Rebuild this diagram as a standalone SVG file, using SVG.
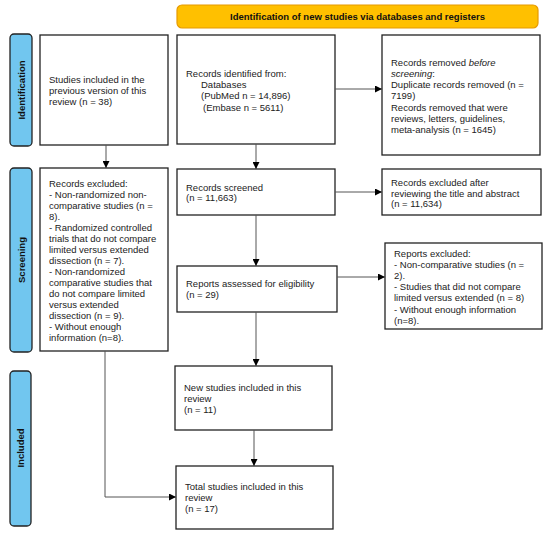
<svg xmlns="http://www.w3.org/2000/svg" width="550" height="538" viewBox="0 0 550 538">
<defs>
<marker id="ah" viewBox="0 0 10 10" refX="10" refY="5" markerWidth="7" markerHeight="7" markerUnits="userSpaceOnUse" orient="auto">
<path d="M0,0 L10,5 L0,10 z" fill="#000"/>
</marker>
</defs>
<style>
.box{fill:#fff;stroke:#222;stroke-width:1.3}
.side{fill:#71C6EF;stroke:#222;stroke-width:1.3}
.hdr{fill:#FFC000;stroke:#E69A00;stroke-width:1.2}
.t{font-family:"Liberation Sans",Arial,sans-serif;font-size:9.5px;fill:#222}
.b{font-family:"Liberation Sans",Arial,sans-serif;font-size:9.5px;font-weight:bold;fill:#111}
.c{fill:none;stroke:#555;stroke-width:1;marker-end:url(#ah)}
</style>
<rect width="550" height="538" fill="#fff"/>

<g id="header">
<rect class="hdr" x="177" y="5" width="361" height="23" rx="5"/>
<text class="b" x="357.5" y="20" text-anchor="middle">Identification of new studies via databases and registers</text>
</g>

<g id="side-identification">
<rect class="side" x="10" y="34" width="22" height="112" rx="4"/>
<text class="b" transform="translate(24.5,90) rotate(-90)" text-anchor="middle">Identification</text>
</g>
<g id="side-screening">
<rect class="side" x="10" y="168" width="22" height="184" rx="4"/>
<text class="b" transform="translate(24.5,260) rotate(-90)" text-anchor="middle">Screening</text>
</g>
<g id="side-included">
<rect class="side" x="10" y="371" width="21" height="155" rx="4"/>
<text class="b" transform="translate(24,448) rotate(-90)" text-anchor="middle">Included</text>
</g>

<g id="prev-studies">
<rect class="box" x="40" y="35" width="128" height="110"/>
<text class="t" x="49" y="82.5">Studies included in the</text>
<text class="t" x="49" y="93.5">previous version of this</text>
<text class="t" x="49" y="104.5">review (n = 38)</text>
</g>

<g id="records-identified">
<rect class="box" x="177" y="35" width="158" height="109"/>
<text class="t" x="186" y="76.5">Records identified from:</text>
<text class="t" x="201" y="87.5">Databases</text>
<text class="t" x="201" y="99">(PubMed n = 14,896)</text>
<text class="t" x="203" y="110.5">(Embase n = 5611)</text>
</g>

<g id="records-removed">
<rect class="box" x="382" y="35" width="158" height="120"/>
<text class="t" x="391" y="65.5">Records removed <tspan font-style="italic">before</tspan></text>
<text class="t" x="391" y="76.5"><tspan font-style="italic">screening</tspan>:</text>
<text class="t" x="391" y="87.5">Duplicate records removed (n =</text>
<text class="t" x="391" y="99">7199)</text>
<text class="t" x="391" y="110.5">Records removed that were</text>
<text class="t" x="391" y="121.5">reviews, letters, guidelines,</text>
<text class="t" x="391" y="132.5">meta-analysis (n = 1645)</text>
</g>

<g id="records-excluded-prev">
<rect class="box" x="40" y="168" width="128" height="183"/>
<text class="t" x="49" y="186.5">Records excluded:</text>
<text class="t" x="49" y="197.5">- Non-randomized non-</text>
<text class="t" x="49" y="208.5">comparative studies (n =</text>
<text class="t" x="49" y="219.5">8).</text>
<text class="t" x="49" y="230.5">- Randomized controlled</text>
<text class="t" x="49" y="241.5">trials that do not compare</text>
<text class="t" x="49" y="252.5">limited versus extended</text>
<text class="t" x="49" y="263.5">dissection (n = 7).</text>
<text class="t" x="49" y="274.5">- Non-randomized</text>
<text class="t" x="49" y="285.5">comparative studies that</text>
<text class="t" x="49" y="296.5">do not compare limited</text>
<text class="t" x="49" y="307.5">versus extended</text>
<text class="t" x="49" y="318.5">dissection (n = 9).</text>
<text class="t" x="49" y="330">- Without enough</text>
<text class="t" x="49" y="341">information (n=8).</text>
</g>

<g id="records-screened">
<rect class="box" x="177" y="169" width="158" height="46"/>
<text class="t" x="186" y="190.5">Records screened</text>
<text class="t" x="186" y="201">(n = 11,663)</text>
</g>

<g id="records-excluded-after">
<rect class="box" x="382" y="169" width="159" height="46"/>
<text class="t" x="391" y="185.5">Records excluded after</text>
<text class="t" x="391" y="196.5">reviewing the title and abstract</text>
<text class="t" x="391" y="207">(n = 11,634)</text>
</g>

<g id="reports-assessed">
<rect class="box" x="177" y="266" width="160" height="46"/>
<text class="t" x="186" y="286.5">Reports assessed for eligibility</text>
<text class="t" x="186" y="297.5">(n = 29)</text>
</g>

<g id="reports-excluded">
<rect class="box" x="385" y="243" width="157" height="86"/>
<text class="t" x="394" y="256.5">Reports excluded:</text>
<text class="t" x="394" y="267.5">- Non-comparative studies (n =</text>
<text class="t" x="394" y="279">2).</text>
<text class="t" x="394" y="290">- Studies that did not compare</text>
<text class="t" x="394" y="301">limited versus extended (n = 8)</text>
<text class="t" x="394" y="312.5">- Without enough information</text>
<text class="t" x="394" y="323.5">(n=8).</text>
</g>

<g id="new-studies">
<rect class="box" x="175" y="366" width="157" height="64"/>
<text class="t" x="184" y="390.5">New studies included in this</text>
<text class="t" x="184" y="401.5">review</text>
<text class="t" x="184" y="413">(n = 11)</text>
</g>

<g id="total-studies">
<rect class="box" x="176" y="466" width="157" height="63"/>
<text class="t" x="185" y="490">Total studies included in this</text>
<text class="t" x="185" y="501">review</text>
<text class="t" x="185" y="512">(n = 17)</text>
</g>

<g id="connectors">
<path class="c" d="M106,145 V168"/>
<path class="c" d="M256,144 V169"/>
<path class="c" d="M335,89 H382"/>
<path class="c" d="M256,215 V266"/>
<path class="c" d="M335,192 H382"/>
<path class="c" d="M337,277 H385"/>
<path class="c" d="M256,312 V366"/>
<path class="c" d="M254,430 V466"/>
<path class="c" d="M105,351 V497 H176"/>
</g>
</svg>
